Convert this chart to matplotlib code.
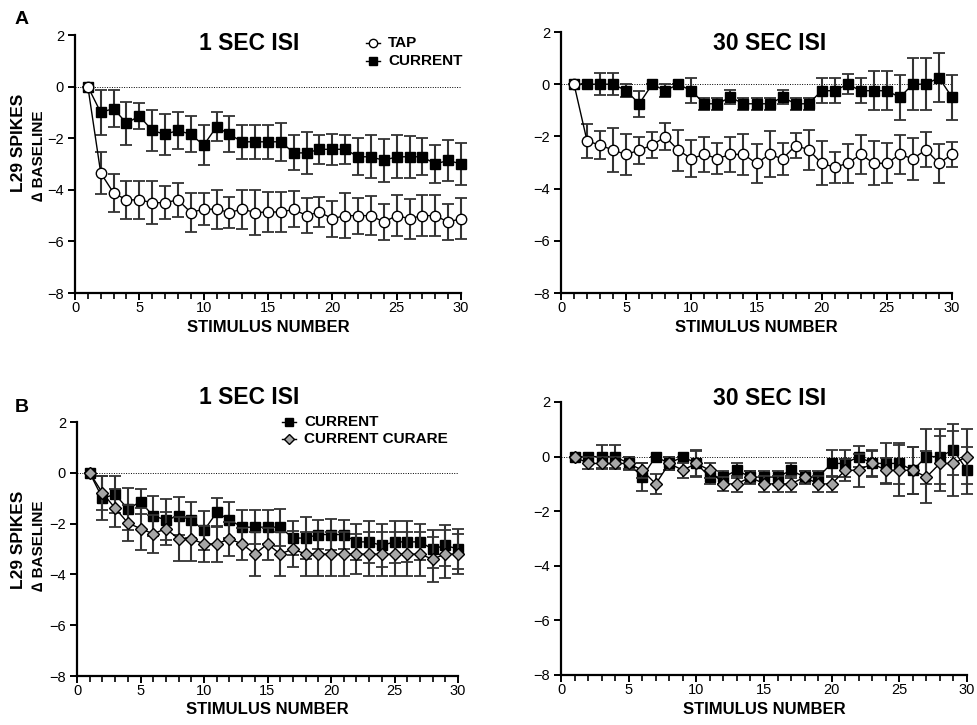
import matplotlib
matplotlib.use("Agg")
import matplotlib.pyplot as plt
import numpy as np

plt.rcParams['font.family'] = ['Liberation Sans', 'DejaVu Sans']

stim = list(range(1, 31))

a1_current = [0, -1.0, -0.85, -1.42, -1.14, -1.70, -1.85, -1.70, -1.85, -2.27, -1.56, -1.85, -2.14, -2.14, -2.14,
              -2.14, -2.57, -2.57, -2.43, -2.43, -2.43, -2.72, -2.72, -2.86, -2.72, -2.72, -2.72, -3.0, -2.86, -3.0]
a1_current_err = [0, 0.87, 0.72, 0.83, 0.5, 0.8, 0.8, 0.73, 0.7, 0.77, 0.56, 0.7, 0.66, 0.66, 0.66,
                  0.73, 0.68, 0.82, 0.57, 0.61, 0.57, 0.72, 0.83, 0.84, 0.83, 0.81, 0.72, 0.75, 0.8, 0.8]
a1_tap = [0, -3.35, -4.12, -4.39, -4.39, -4.5, -4.5, -4.39, -4.88, -4.75, -4.75, -4.88, -4.75, -4.88, -4.86,
          -4.86, -4.76, -5.0, -4.86, -5.12, -5.0, -5.0, -5.0, -5.25, -5.0, -5.12, -5.0, -5.0, -5.25, -5.12]
a1_tap_err = [0, 0.8, 0.75, 0.74, 0.75, 0.84, 0.65, 0.66, 0.74, 0.61, 0.75, 0.61, 0.75, 0.87, 0.77,
              0.78, 0.7, 0.68, 0.58, 0.7, 0.86, 0.7, 0.77, 0.7, 0.8, 0.78, 0.8, 0.78, 0.7, 0.79]

a30_current = [0, 0, 0, 0, -0.25, -0.75, 0, -0.25, 0, -0.25, -0.75, -0.75, -0.5, -0.75, -0.75,
               -0.75, -0.5, -0.75, -0.75, -0.25, -0.25, 0, -0.25, -0.25, -0.25, -0.5, 0, 0, 0.25, -0.5]
a30_current_err = [0, 0, 0.42, 0.42, 0.25, 0.5, 0, 0.25, 0, 0.48, 0.24, 0.24, 0.27, 0.24, 0.24,
                   0.24, 0.27, 0.24, 0.24, 0.48, 0.48, 0.38, 0.48, 0.74, 0.74, 0.86, 1.0, 1.0, 0.94, 0.86]
a30_tap = [0, -2.18, -2.33, -2.53, -2.69, -2.53, -2.33, -2.01, -2.53, -2.85, -2.69, -2.85, -2.69, -2.69, -3.03,
           -2.69, -2.86, -2.35, -2.51, -3.03, -3.18, -3.03, -2.69, -3.03, -3.03, -2.69, -2.86, -2.51, -3.03, -2.69]
a30_tap_err = [0, 0.64, 0.55, 0.85, 0.8, 0.51, 0.48, 0.51, 0.78, 0.7, 0.67, 0.6, 0.67, 0.77, 0.74,
               0.88, 0.6, 0.49, 0.77, 0.85, 0.6, 0.74, 0.76, 0.85, 0.77, 0.76, 0.8, 0.66, 0.74, 0.48]

b1_curare = [0, -0.79, -1.39, -1.97, -2.2, -2.4, -2.2, -2.6, -2.6, -2.8, -2.8, -2.6, -2.8, -3.2, -2.8,
             -3.2, -3.0, -3.2, -3.2, -3.2, -3.2, -3.2, -3.2, -3.2, -3.2, -3.2, -3.2, -3.4, -3.2, -3.2]
b1_curare_err = [0, 0.66, 0.74, 0.7, 0.83, 0.75, 0.66, 0.86, 0.86, 0.72, 0.72, 0.67, 0.62, 0.86, 0.64,
                 0.85, 0.7, 0.85, 0.85, 0.85, 0.85, 0.8, 0.85, 0.85, 0.85, 0.85, 0.85, 0.88, 0.95, 0.8]

b30_curare = [0, -0.25, -0.25, -0.25, -0.25, -0.5, -1.0, -0.25, -0.5, -0.25, -0.5, -1.0, -1.0, -0.75, -1.0,
              -1.0, -1.0, -0.75, -1.0, -1.0, -0.5, -0.5, -0.25, -0.5, -0.5, -0.5, -0.75, -0.25, -0.25, 0]
b30_curare_err = [0, 0.22, 0.22, 0.22, 0.22, 0.28, 0.38, 0.25, 0.28, 0.46, 0.28, 0.26, 0.3, 0.22, 0.28,
                  0.28, 0.28, 0.22, 0.28, 0.28, 0.4, 0.6, 0.46, 0.46, 0.93, 0.86, 0.95, 1.0, 1.18, 1.0]

W, H = 977, 725
fig = plt.figure(figsize=(W / 100, H / 100), dpi=100)


def make_ax(x0, x1, ytop, ybot):
    return fig.add_axes([x0 / W, 1 - ybot / H, (x1 - x0) / W, (ybot - ytop) / H])


def style(ax):
    ax.set_xlim(0, 30)
    ax.set_ylim(-8, 2)
    for s in ['top', 'right']:
        ax.spines[s].set_visible(False)
    for s in ['left', 'bottom']:
        ax.spines[s].set_linewidth(1.6)
    ax.set_xticks([0, 5, 10, 15, 20, 25, 30])
    ax.set_xticks(range(0, 31), minor=True)
    ax.set_yticks([2, 0, -2, -4, -6, -8])
    ax.tick_params(axis='both', which='major', labelsize=10.5, width=1.4, length=5, direction='out')
    ax.tick_params(axis='x', which='minor', width=1.2, length=4)
    ax.tick_params(axis='x', pad=1)
    ax.tick_params(axis='y', pad=3)
    ax.plot([0, 30], [0, 0], ls=(0, (1, 1.5)), color='black', lw=0.7, zorder=1)
    ax.set_xlabel('STIMULUS NUMBER', fontsize=12, fontweight='bold', labelpad=3)


def series(ax, y, err, marker, ms, mfc, z):
    ax.errorbar(stim, y, yerr=err, fmt='none', ecolor='#333333', elinewidth=1.5,
                capsize=4, capthick=1.3, zorder=z, clip_on=False)
    ax.plot(stim, y, color='black', lw=1.0, marker=marker, ms=ms, mfc=mfc, mec='black',
            mew=1.0, zorder=z + 0.5, clip_on=False)


axA1 = make_ax(75, 461, 35, 293)
axA2 = make_ax(561, 952, 32, 293)
axB1 = make_ax(77, 458, 422, 676)
axB2 = make_ax(561, 967, 402, 675)
for ax in (axA1, axA2, axB1, axB2):
    style(ax)

series(axA1, a1_current, a1_current_err, 's', 6.5, 'black', 3)
series(axA1, a1_tap, a1_tap_err, 'o', 7.5, 'white', 4)
series(axA2, a30_current, a30_current_err, 's', 6.5, 'black', 3)
series(axA2, a30_tap, a30_tap_err, 'o', 7.5, 'white', 4)
series(axB1, a1_current, a1_current_err, 's', 6.5, 'black', 3)
series(axB1, b1_curare, b1_curare_err, 'D', 6.5, '#a6a6a6', 4)
series(axB2, a30_current, a30_current_err, 's', 6.5, 'black', 3)
series(axB2, b30_curare, b30_curare_err, 'D', 6.5, '#a6a6a6', 4)

# titles
tkw = dict(fontsize=16.5, fontweight='bold', ha='center', va='center')
fig.text(249 / W, 1 - 44 / H, '1 SEC ISI', **tkw)
fig.text(770 / W, 1 - 44 / H, '30 SEC ISI', **tkw)
fig.text(249 / W, 1 - 398 / H, '1 SEC ISI', **tkw)
fig.text(770 / W, 1 - 399 / H, '30 SEC ISI', **tkw)

# panel letters
fig.text(22 / W, 1 - 19 / H, 'A', fontsize=14, fontweight='bold', ha='center', va='center')
fig.text(22 / W, 1 - 407 / H, 'B', fontsize=14, fontweight='bold', ha='center', va='center')

# y labels
for yc1, yc2 in ((143, 156), (540, 546)):
    fig.text(19 / W, 1 - yc1 / H, 'L29 SPIKES', fontsize=12.5, fontweight='bold',
             rotation=90, ha='center', va='center')
    fig.text(39 / W, 1 - yc2 / H, '\u2206 BASELINE', fontsize=11, fontweight='bold',
             rotation=90, ha='center', va='center')


# legends (drawn as figure-level handles)
def legend_entry(xm, yc, marker, mfc, label, ms):
    fig.lines.append(plt.Line2D([(xm - 7) / W, (xm + 7) / W], [1 - yc / H, 1 - yc / H],
                                color='black', lw=1.0, transform=fig.transFigure))
    fig.lines.append(plt.Line2D([xm / W], [1 - yc / H], marker=marker, ms=ms, mfc=mfc,
                                mec='black', mew=1.0, transform=fig.transFigure))
    fig.text((xm + 15) / W, 1 - yc / H, label, fontsize=11, fontweight='bold',
             ha='left', va='center')


legend_entry(373, 43, 'o', 'white', 'TAP', 6)
legend_entry(373, 61, 's', 'black', 'CURRENT', 5.5)
legend_entry(289, 422, 's', 'black', 'CURRENT', 5.5)
legend_entry(289, 439, 'D', '#a6a6a6', 'CURRENT CURARE', 5.5)

fig.savefig('out.png', dpi=100)
